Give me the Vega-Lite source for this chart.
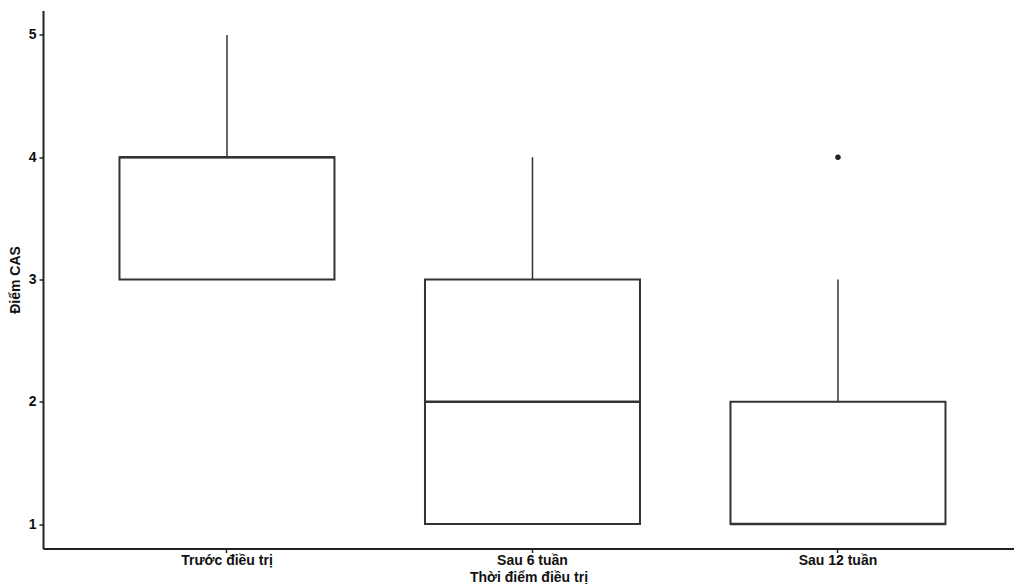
{
  "$schema": "https://vega.github.io/schema/vega-lite/v6.json",
  "width": 971,
  "height": 538,
  "padding": {"left": 8, "top": 10.5, "right": 0, "bottom": 0},
  "autosize": {"type": "pad"},
  "background": "white",
  "config": {
    "view": {"stroke": null},
    "font": "Liberation Sans Narrow, Liberation Sans",
    "axis": {"grid": false, "domainColor": "#222", "domainWidth": 2, "tickColor": "#222", "tickWidth": 1.5, "tickSize": 4, "labelColor": "#111", "labelFont": "Liberation Sans Narrow, Liberation Sans", "labelFontSize": 14, "labelFontWeight": "bold", "titleFont": "Liberation Sans Narrow, Liberation Sans", "titleFontSize": 14, "titleFontWeight": "bold", "titleColor": "#111"}
  },
  "datasets": {
    "stats": [
      {"cat": "Trước điều trị", "lower": 3, "q1": 3, "median": 4, "q3": 4, "upper": 5},
      {"cat": "Sau 6 tuần", "lower": 1, "q1": 1, "median": 2, "q3": 3, "upper": 4},
      {"cat": "Sau 12 tuần", "lower": 1, "q1": 1, "median": 1, "q3": 2, "upper": 3}
    ],
    "outliers": [
      {"cat": "Sau 12 tuần", "value": 4}
    ]
  },
  "layer": [
    {
      "data": {"name": "stats"},
      "mark": {"type": "rule", "color": "#333", "strokeWidth": 1.5},
      "encoding": {
        "x": {"field": "cat", "type": "nominal", "sort": null},
        "y": {"field": "q3", "type": "quantitative"},
        "y2": {"field": "upper"}
      }
    },
    {
      "data": {"name": "stats"},
      "mark": {"type": "rule", "color": "#333", "strokeWidth": 1.5},
      "encoding": {
        "x": {"field": "cat", "type": "nominal", "sort": null},
        "y": {"field": "lower", "type": "quantitative"},
        "y2": {"field": "q1"}
      }
    },
    {
      "data": {"name": "stats"},
      "mark": {"type": "bar", "size": 215, "fill": "white", "stroke": "#333", "strokeWidth": 2},
      "encoding": {
        "x": {"field": "cat", "type": "nominal", "sort": null},
        "y": {"field": "q1", "type": "quantitative"},
        "y2": {"field": "q3"}
      }
    },
    {
      "data": {"name": "stats"},
      "mark": {"type": "tick", "size": 215, "thickness": 2.5, "color": "#333", "opacity": 1},
      "encoding": {
        "x": {"field": "cat", "type": "nominal", "sort": null},
        "y": {"field": "median", "type": "quantitative"}
      }
    },
    {
      "data": {"name": "outliers"},
      "mark": {"type": "point", "filled": true, "size": 30, "color": "#222", "opacity": 1},
      "encoding": {
        "x": {"field": "cat", "type": "nominal", "sort": null},
        "y": {"field": "value", "type": "quantitative"}
      }
    }
  ],
  "encoding": {
    "x": {"field": "cat", "type": "nominal", "sort": null,
      "scale": {"domain": ["Trước điều trị", "Sau 6 tuần", "Sau 12 tuần"], "paddingInner": 0, "paddingOuter": 0.0892, "align": 0.573},
      "axis": {"title": "Thời điểm điều trị", "labelAngle": 0, "labelPadding": 1, "titlePadding": 3}
    },
    "y": {"type": "quantitative",
      "scale": {"domain": [0.8, 5.2], "nice": false, "zero": false},
      "axis": {"title": "Điểm CAS", "values": [1, 2, 3, 4, 5], "labelPadding": 3, "titlePadding": 6}
    }
  },
  "resolve": {"scale": {"x": "shared", "y": "shared"}}
}
